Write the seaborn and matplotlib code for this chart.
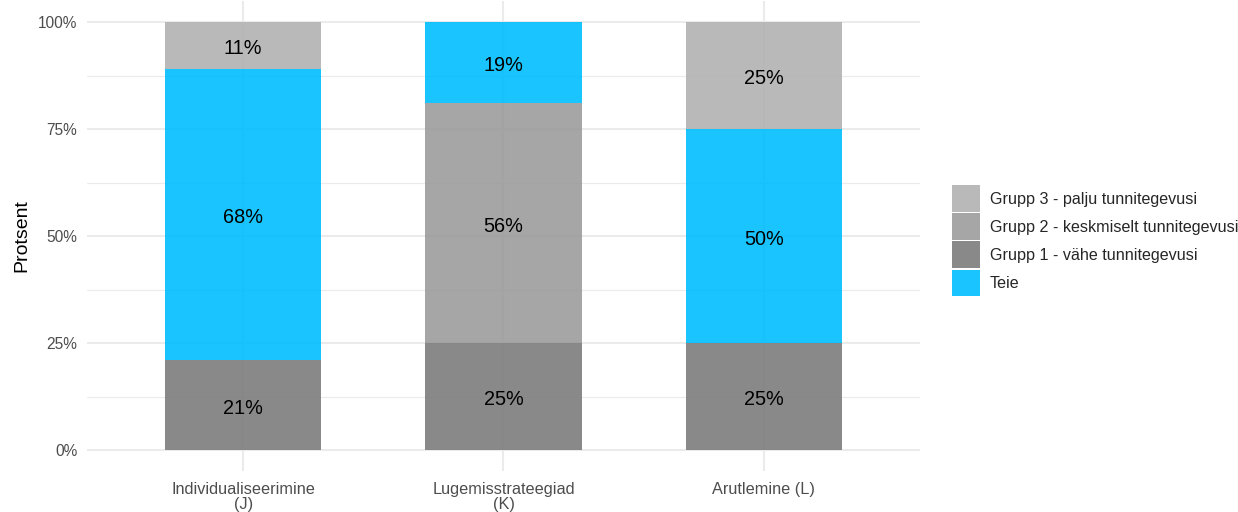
import numpy as np
import pandas as pd
import matplotlib
matplotlib.use("Agg")
import matplotlib.pyplot as plt
from matplotlib.patches import Patch
from matplotlib.ticker import FixedLocator
from matplotlib.transforms import offset_copy
import seaborn as sns

# Data
categories = ["Individualiseerimine\n(J)", "Lugemisstrateegiad\n(K)", "Arutlemine (L)"]
groups = ["Grupp 1 - vähe tunnitegevusi", "Grupp 2 - keskmiselt tunnitegevusi",
          "Teie", "Grupp 3 - palju tunnitegevusi"]
grupp1 = [21, 25, 25]
grupp2 = [0, 56, 0]
teie = [68, 19, 50]
grupp3 = [11, 0, 25]

legend_order = ["Grupp 3 - palju tunnitegevusi", "Grupp 2 - keskmiselt tunnitegevusi",
                "Grupp 1 - vähe tunnitegevusi", "Teie"]
colors = {
    "Grupp 1 - vähe tunnitegevusi": "#7c7c7c",
    "Grupp 2 - keskmiselt tunnitegevusi": "#9c9c9c",
    "Teie": "#00beff",
    "Grupp 3 - palju tunnitegevusi": "#b2b2b2",
}
ALPHA = 0.9

series = {groups[0]: grupp1, groups[1]: grupp2, groups[2]: teie, groups[3]: grupp3}
rows = []
for g in groups:
    for i, v in enumerate(series[g]):
        rows.append({"pos": i, "group": g, "share": v / 100})
df = pd.DataFrame(rows)

sns.set_theme(style="whitegrid")
plt.rcParams["font.family"] = ["Liberation Sans", "DejaVu Sans"]

fig = plt.figure(figsize=(12.38, 5.12), dpi=100)
ax = fig.add_axes([0.0703, 0.0793, 0.6728, 0.9195])

# histplot stacks the first hue level on top, so pass the bottom-to-top order reversed
sns.histplot(data=df, x="pos", weights="share", hue="group", hue_order=groups[::-1],
             multiple="stack", discrete=True, shrink=0.6, palette=colors,
             alpha=ALPHA, linewidth=0, legend=False, ax=ax, zorder=2)

# Segment labels, nudged slightly down to sit optically centred
label_tf = offset_copy(ax.transData, fig=fig, x=0, y=-2.2, units="points")
for i in range(len(categories)):
    bottom = 0.0
    for g in groups:
        v = series[g][i]
        if v > 0:
            ax.text(i, (bottom + v / 2) / 100, f"{v}%", ha="center", va="center",
                    fontsize=14.3, color="black", zorder=3, transform=label_tf)
        bottom += v

ax.set_xlim(-0.6, 2.6)
ax.set_ylim(-0.05, 1.05)
ax.set_xticks(range(len(categories)))
ax.set_xticklabels(categories, linespacing=1.05)
ax.set_yticks([0, 0.25, 0.5, 0.75, 1.0])
ax.set_yticklabels(["0%", "25%", "50%", "75%", "100%"])
ax.yaxis.set_minor_locator(FixedLocator([0.125, 0.375, 0.625, 0.875]))

ax.set_facecolor("white")
for s in ax.spines.values():
    s.set_visible(False)
ax.grid(which="major", axis="both", color="#ebebeb", linewidth=1.5, zorder=0)
ax.grid(which="minor", axis="y", color="#ebebeb", linewidth=0.8, zorder=0)
ax.grid(which="minor", axis="x", visible=False)
ax.set_axisbelow(True)
ax.tick_params(axis="both", which="both", length=0, labelcolor="#4d4d4d")
ax.tick_params(axis="y", pad=7, labelsize=11.2)
ax.tick_params(axis="x", pad=7.5, labelsize=11.7)

ax.set_xlabel("")
ax.set_ylabel("Protsent", fontsize=14, color="black")
ax.yaxis.set_label_coords(-0.068, 0.5)

handles = [Patch(facecolor=colors[g], alpha=ALPHA, edgecolor="none", label=g)
           for g in legend_order]
fig.legend(handles=handles, loc="center left", bbox_to_anchor=(952 / 1238, 0.530),
           frameon=False, fontsize=11.6, handlelength=1.75, handleheight=2.15,
           handletextpad=0.6, labelspacing=0.1, borderpad=0, borderaxespad=0)

fig.savefig("out.png", dpi=100, facecolor="white")
